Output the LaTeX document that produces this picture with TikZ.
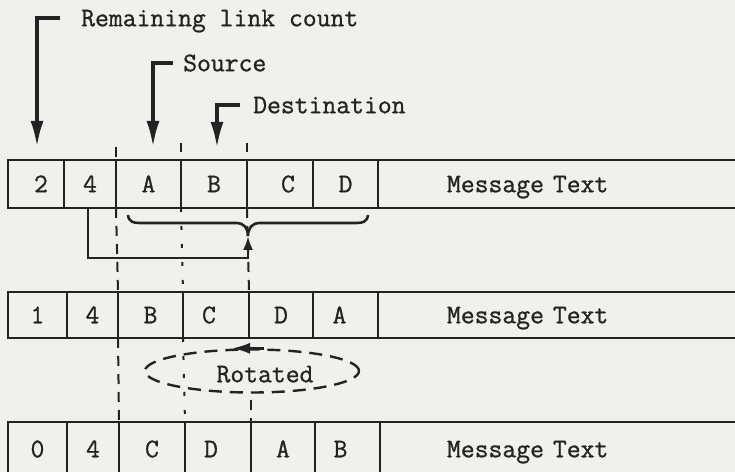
\documentclass[tikz,border=0pt]{standalone}
\usepackage{fontspec}
\newfontfamily\twfont{Latin Modern Mono}[FakeBold=0.9]
\usetikzlibrary{arrows.meta,shapes.geometric}
\definecolor{bg}{RGB}{241,240,236}
\definecolor{ink}{RGB}{35,35,35}
\begin{document}
\begin{tikzpicture}[x=1bp,y=-1bp,
  font=\twfont\fontsize{27}{30}\selectfont,
  cell/.style={draw=ink, line width=2.6bp, inner sep=0pt, outer sep=0pt, text=ink, text height=16.5bp, text depth=0pt},
  msg/.style={cell, anchor=west, align=left},
  lab/.style={text=ink, inner sep=0pt, text height=16.5bp, text depth=0pt},
  labarr/.style={ink, line width=3.5bp, -{Latex[length=26bp,width=13bp]}},
  guide/.style={ink, line width=2bp, dash pattern=on 10bp off 8bp},
  guidedot/.style={ink, line width=2bp, dash pattern=on 4bp off 14bp},
  lnk/.style={ink, line width=2.6bp}]
\useasboundingbox (0,0) rectangle (735,472);
\clip (0,0) rectangle (735,472);
\fill[bg] (0,0) rectangle (735,472);

% row 1
\begin{scope}[every node/.append style={minimum height=48bp}]
\node[cell, minimum width=56bp] (a1) at (36,184) {\hspace*{10bp}2};
\node[cell, minimum width=52bp] (a2) at (90,184) {4};
\node[cell, minimum width=65bp] (a3) at (148.5,184) {A};
\node[cell, minimum width=66bp] (a4) at (214,184) {B};
\node[cell, minimum width=66bp] (a5) at (280,184) {\hspace*{16bp}C};
\node[cell, minimum width=65bp] (a6) at (345.5,184) {D};
\node[msg, text width=244bp, inner xsep=69bp] (a7) at (378,184) {Message Text};
\end{scope}

% row 2
\begin{scope}[every node/.append style={minimum height=46bp}]
\node[cell, minimum width=59bp] (b1) at (37.5,315) {1};
\node[cell, minimum width=51bp] (b2) at (92.5,315) {4};
\node[cell, minimum width=65bp] (b3) at (150.5,315) {B};
\node[cell, minimum width=66bp] (b4) at (216,315) {C\hspace*{14bp}};
\node[cell, minimum width=64bp] (b5) at (281,315) {D};
\node[cell, minimum width=65bp] (b6) at (345.5,315) {A\hspace*{12bp}};
\node[msg, text width=244bp, inner xsep=69bp] (b7) at (378,315) {Message Text};
\end{scope}

% row 3
\begin{scope}[every node/.append style={minimum height=54bp}]
\node[cell, minimum width=59bp] (c1) at (37.5,449) {0};
\node[cell, minimum width=52bp] (c2) at (93,449) {4};
\node[cell, minimum width=66bp] (c3) at (152,449) {C};
\node[cell, minimum width=66bp] (c4) at (218,449) {D\hspace*{14bp}};
\node[cell, minimum width=64bp] (c5) at (283,449) {A};
\node[cell, minimum width=65bp] (c6) at (347.5,449) {B\hspace*{14bp}};
\node[msg, text width=246bp, inner xsep=67bp] (c7) at (380,449) {Message Text};
\end{scope}

% labels with arrows
\node[lab, anchor=west] (lrem) at (81,18) {Remaining link count};
\node[lab, anchor=west] (lsrc) at (183,63) {Source};
\node[lab, anchor=west] (ldst) at (253,105) {Destination};
\coordinate (t1) at (37,147);
\coordinate (t2) at (153,147);
\coordinate (t3) at (217,148);
\draw[labarr] ([xshift=-21bp]lrem.west) -| (t1);
\draw[labarr] ([xshift=-10bp]lsrc.west) -| (t2);
\draw[labarr] ([xshift=-13bp]ldst.west) -| (t3);

% rotated
\node[draw=ink, ellipse, line width=2.4bp, dash pattern=on 13bp off 8bp,
  minimum width=214bp, minimum height=43bp, inner sep=0pt] (rot) at (252,371) {};
\node[lab] (rtxt) at (265,374) {Rotated};
\draw[lnk, -{Latex[length=18bp,width=11bp]}] ([xshift=12bp]rot.north) -- ([xshift=-20bp]rot.north);

% column guides
\draw[guide] ([yshift=13bp]a3.north west) -- (a3.north west);
\draw[guide] (a3.south west) -- (b3.north west);
\draw[guide] (b3.south west) -- (c3.north west);
\draw[guide] ([yshift=17bp]a4.north west) -- ([yshift=8bp]a4.north west);
\draw[guidedot] (a4.south west) -- (b4.north west);
\draw[guidedot] (b4.south west) -- (c4.north west);
\draw[guide] ([yshift=17bp]a5.north west) -- ([yshift=8bp]a5.north west);
\draw[guide] (a5.south west) -- (b5.north west);
\draw[guide] ([yshift=-6bp]rot.south -| c5.north west) -- (c5.north west);

% brace and link
\coordinate (cusp) at (248,236);
\draw[lnk] (128,215) .. controls (129,222) and (133,223) .. (140,223) -- (236,223)
  .. controls (244,223) and (248,228) .. (cusp)
  .. controls (248,228) and (252,223) .. (260,223) -- (356,223)
  .. controls (363,223) and (367,222) .. (368,215);
\draw[lnk, -{Latex[length=14bp,width=10bp]}] ([xshift=-2bp]a2.south) -- ++(0,50) -| (cusp);
\end{tikzpicture}
\end{document}
